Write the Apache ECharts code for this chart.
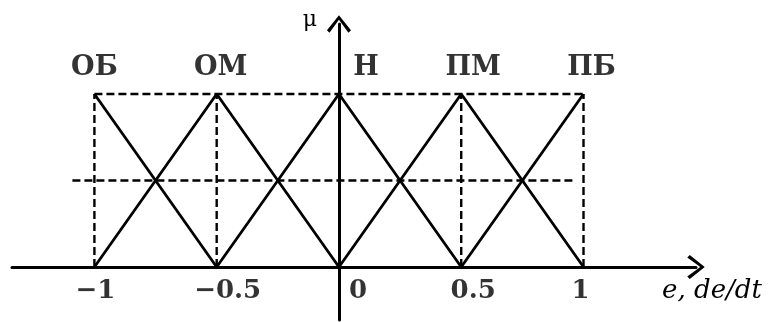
<!DOCTYPE html>
<html>
<head>
<meta charset="utf-8">
<script src="https://cdn.jsdelivr.net/npm/echarts@6/dist/echarts.min.js"></script>
<style>
  html, body { margin: 0; padding: 0; background: #fff; }
  #chart { width: 777px; height: 322px; }
</style>
</head>
<body>
<div id="chart"></div>
<script>
// термы и их вершины
const termNames = ['ОБ', 'ОМ', 'Н', 'ПМ', 'ПБ']
const termPeaks = [-1, -0.5, 0, 0.5, 1]

// функции принадлежности (x, μ)
const obPoints = [[-1, 1], [-0.5, 0]]
const omPoints = [[-1, 0], [-0.5, 1], [0, 0]]
const hPoints = [[-0.5, 0], [0, 1], [0.5, 0]]
const pmPoints = [[0, 0], [0.5, 1], [1, 0]]
const pbPoints = [[0.5, 0], [1, 1]]

// подписи оси
const tickValues = [-1, -0.5, 0, 0.5, 1]
const tickLabels = ['−1', '−0.5', '0', '0.5', '1']

// пунктирные направляющие
const topGuide = [[-1, 1], [1, 1]]
const midGuide = [[-1.09, 0.5], [0.97, 0.5]]
const verticalGuides = [-1, -0.5, 0.5, 1]

const chart = echarts.init(document.getElementById('chart'))

const chevron = 'path://M12,0 L24,15 L21.5,17.5 L12,4.5 L2.5,17.5 L0,15 Z'
const solid = { color: '#000', width: 2.8 }
const dashed = { color: '#000', width: 2.4, type: [8, 4] }
const serif = 'DejaVu Serif'

// сдвиги подписей относительно делений
const tickShift = [1, 11, 19, 12, -3]
const termShift = [0, 4, 27, 12, 8]

const lineSeries = (data, style) => ({
  type: 'line',
  data: data,
  symbol: 'none',
  silent: true,
  lineStyle: style
})

const series = [
  lineSeries(topGuide, dashed),
  lineSeries(midGuide, dashed),
  ...verticalGuides.map((v) => lineSeries([[v, 0], [v, 1]], dashed)),
  lineSeries(obPoints, solid),
  lineSeries(omPoints, solid),
  lineSeries(hPoints, solid),
  lineSeries(pmPoints, solid),
  lineSeries(pbPoints, solid),
  // названия термов над вершинами
  {
    type: 'scatter',
    symbolSize: 0,
    silent: true,
    data: termPeaks.map((p, i) => ({
      value: [p, 1],
      label: { offset: [termShift[i], 0] }
    })),
    label: {
      show: true,
      position: 'top',
      distance: 13,
      formatter: (p) => termNames[p.dataIndex],
      fontFamily: serif,
      fontWeight: 'bold',
      fontSize: 27,
      color: '#000'
    }
  },
  // подписи делений оси x
  {
    type: 'scatter',
    symbolSize: 0,
    silent: true,
    data: tickValues.map((v, i) => ({
      value: [v, 0],
      label: { offset: [tickShift[i], 0] }
    })),
    label: {
      show: true,
      position: 'bottom',
      distance: 11,
      formatter: (p) => tickLabels[p.dataIndex],
      fontFamily: serif,
      fontWeight: 'bold',
      fontSize: 26,
      color: '#000'
    }
  }
]

const option = {
  animation: false,
  grid: { left: 12, right: 81, top: 24, bottom: 2, containLabel: false, outerBoundsMode: 'none' },
  xAxis: {
    type: 'value',
    min: -1.337,
    max: 1.46,
    splitLine: { show: false },
    axisTick: { show: false },
    axisLabel: { show: false },
    axisLine: {
      onZero: true,
      symbol: ['none', chevron],
      symbolSize: [24, 18],
      lineStyle: { color: '#000', width: 3 }
    },
    name: 'e, de/dt',
    nameLocation: 'end',
    nameGap: 16,
    nameTextStyle: {
      fontFamily: serif,
      fontStyle: 'italic',
      fontSize: 26,
      color: '#000',
      align: 'center',
      verticalAlign: 'top',
      padding: [11, 0, 0, 0]
    }
  },
  yAxis: {
    type: 'value',
    min: -0.306,
    max: 1.405,
    splitLine: { show: false },
    axisTick: { show: false },
    axisLabel: { show: false },
    axisLine: {
      onZero: true,
      symbol: ['none', chevron],
      symbolSize: [24, 18],
      lineStyle: { color: '#000', width: 3 }
    },
    name: 'μ',
    nameLocation: 'end',
    nameGap: 4,
    nameTextStyle: {
      fontFamily: serif,
      fontSize: 22,
      color: '#000',
      align: 'right',
      verticalAlign: 'middle',
      padding: [0, 22, 0, 0]
    }
  },
  series: series
}

chart.setOption(option)
</script>
</body>
</html>
